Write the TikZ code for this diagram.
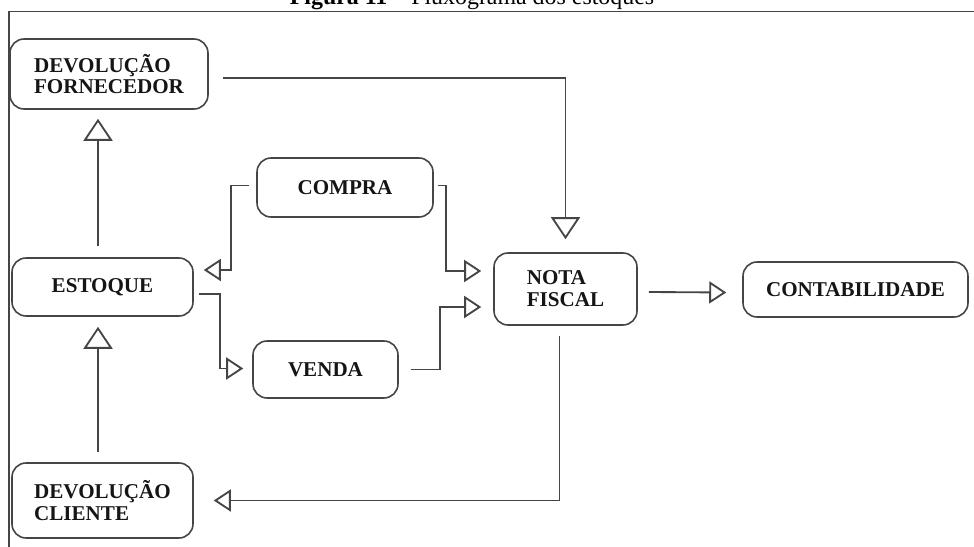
\documentclass[tikz,border=0pt]{standalone}
\usepackage{fontspec}
\setmainfont{Liberation Serif}
\usetikzlibrary{arrows.meta,calc}
\definecolor{linecol}{HTML}{454545}
\definecolor{txtcol}{HTML}{151515}
\tikzset{
  box/.style={draw=linecol, line width=0.9pt, rounded corners=0.28cm, inner sep=0pt,
    align=left, text=txtcol, font=\bfseries\fontsize{12}{12.4}\selectfont},
  flowh/.style={draw=linecol, line width=1.05pt,
    -{Triangle[open, length=0.34cm, width=0.44cm]}},
  flowv/.style={draw=linecol, line width=1.05pt,
    -{Triangle[open, length=0.44cm, width=0.58cm]}},
  frame/.style={draw=linecol, line width=1.05pt}
}
\begin{document}
\begin{tikzpicture}[x=0.02cm, y=-0.02cm]
\useasboundingbox[fill=white] (0,0) rectangle (974,547);
% title (cut off at the top, as in the reference)
\node[anchor=base, font=\fontsize{13.6}{15}\selectfont, inner sep=0pt] (title) at (472,4.5)
  {\textbf{Figura 11} – Fluxograma dos estoques};
% frame
\draw[frame] (9,560) -- (9,11.5) -- (990,11.5);
% boxes
\node[box, minimum width=3.96cm, minimum height=1.40cm] (forn) at (109,74) {DEVOLUÇÃO\\FORNECEDOR};
\node[box, minimum width=3.52cm, minimum height=1.18cm] (compra) at (345,187.5) {COMPRA};
\node[box, minimum width=3.62cm, minimum height=1.16cm] (estoque) at (102.5,287) {ESTOQUE};
\node[box, minimum width=2.90cm, minimum height=1.14cm] (venda) at (325.5,369.5) {VENDA};
\node[box, minimum width=2.86cm, minimum height=1.44cm] (nota) at (565.5,289) {NOTA\\FISCAL};
\node[box, minimum width=4.50cm, minimum height=1.10cm] (contab) at (855.5,289.5) {CONTABILIDADE};
\node[box, minimum width=3.62cm, minimum height=1.50cm] (cliente) at (102.5,500.5) {DEVOLUÇÃO\\CLIENTE};
% connectors
\draw[flowv] ($(forn.east)+(14,4)$) -| ($(nota.north)+(0,-13)$);
\draw[flowv] ($(estoque.north)+(-4.5,-11)$) -- ($(forn.south)+(-11,9)$);
\draw[flowh] ($(compra.west)+(-7,-2)$) -- ++(-18,0) |- ($(estoque.east)+(10,-17)$);
\draw[flowh] ($(compra.east)+(4,-2)$) -- ++(8,0) |- ($(nota.west)+(-12,-18)$);
\draw[flowh] ($(estoque.east)+(5,7)$) -- ++(21,0) |- ($(venda.west)+(-9,-1)$);
\draw[flowh] ($(venda.east)+(12,0)$) -- ++(29,0) |- ($(nota.west)+(-12,18)$);
\draw[flowh] ($(nota.east)+(11,3)$) -- ($(contab.west)+(-16,3)$);
\draw[flowh] ($(nota.south)+(-6,10)$) |- ($(cliente.east)+(20,0)$);
\draw[flowv] ($(cliente.north)+(-4.5,-10)$) -- ($(estoque.south)+(-4.5,10)$);
\end{tikzpicture}
\end{document}
